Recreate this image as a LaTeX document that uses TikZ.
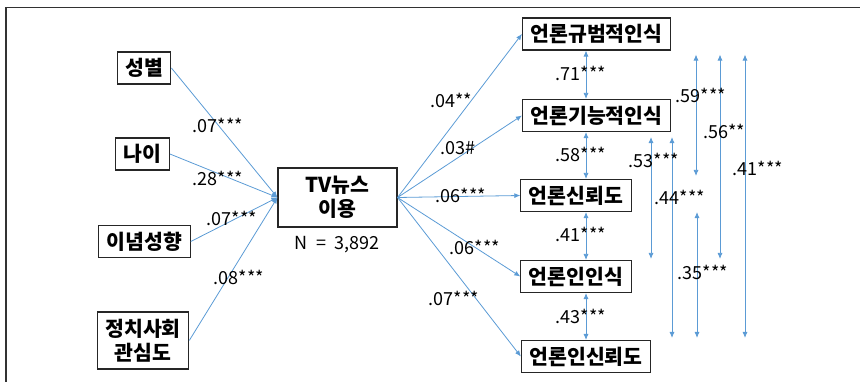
\documentclass[tikz,border=0pt]{standalone}
\usepackage{fontspec}
\setmainfont{Noto Sans CJK KR}
\usetikzlibrary{arrows.meta}

\definecolor{pathblue}{RGB}{91,155,213}
\definecolor{framegray}{RGB}{50,50,50}

\begin{document}
\begin{tikzpicture}[x=1pt, y=-1pt]
		\tikzset{
			var/.style={
				draw=black!85,
				line width=1.1pt,
				align=center,
				font=\fontsize{20.5}{24}\selectfont\bfseries,
				inner xsep=8pt,
				inner ysep=0pt,
				minimum height=32pt
			},
			coef/.style={
				font=\fontsize{18}{20}\selectfont,
				inner sep=0pt
			},
			line/.style={
				-{Latex[length=6pt, width=5pt]},
				draw=pathblue,
				line width=0.8pt
			},
			pair/.style={
				{Latex[length=6pt, width=5pt]}-{Latex[length=6pt, width=5pt]},
				draw=pathblue,
				line width=0.8pt
			}
		}

		\useasboundingbox (0,0) rectangle (860,382);

		% frame
		\draw[framegray, line width=1.5pt] (6,382) -- (6,7.5) -- (860,7.5);

		% predictors
		\node[var] (sex) at (144, 68)
			{성별};
		\node[var] (age) at (142.5, 154)
			{나이};
		\node[var] (ideo) at (144.5, 241.5)
			{이념성향};
		\node[var, minimum height=57pt] (interest) at (143, 340.5)
			{정치사회\\관심도};

		\node[var, minimum height=59pt, minimum width=119pt] (tv) at (337.5, 197.5)
			{TV뉴스\\이용};
		\node[coef] (n) at (337, 245)
			{N \ = \ 3,892};

		% outcomes
		\node[var] (norm) at (596.5, 34)
			{언론규범적인식};
		\node[var] (func) at (596.5, 115.5)
			{언론기능적인식};
		\node[var] (trust) at (576, 195.5)
			{언론신뢰도};
		\node[var] (jperc) at (576, 276.5)
			{언론인인식};
		\node[var] (jtrust) at (586, 356.5)
			{언론인신뢰도};

		% columns of the correlation arrows
		\coordinate (chain) at (586, 0);
		\coordinate (func-jperc) at (651, 0);
		\coordinate (func-jtrust) at (672, 0);
		\coordinate (norm-trust) at (696, 0);
		\coordinate (norm-jperc) at (720, 0);
		\coordinate (norm-jtrust) at (745, 0);
		\coordinate (trust-jtrust) at (697, 0);

		\draw[line] (sex.east) -- (tv.west);
		\draw[line] (age.east) -- (tv.west);
		\draw[line] (ideo.east) -- (tv.west);
		\draw[line] (interest.east) -- (tv.west);

		\draw[line] (tv.east) -- (norm.west);
		\draw[line] (tv.east) -- (func.west);
		\draw[line] (tv.east) -- (trust.west);
		\draw[line] (tv.east) -- (jperc.west);
		\draw[line] (tv.east) -- (jtrust.west);

		\draw[pair] (norm.south -| chain) -- (func.north -| chain);
		\draw[pair] (func.south -| chain) -- (trust.north -| chain);
		\draw[pair] (trust.south -| chain) -- (jperc.north -| chain);
		\draw[pair] (jperc.south -| chain) -- (jtrust.north -| chain);

		\draw[pair] ([yshift=-5pt]func.south -| func-jperc) -- ([yshift=1pt]jperc.north -| func-jperc);
		\draw[pair] ([yshift=-5pt]func.south -| func-jtrust) -- ([yshift=2pt]jtrust.north -| func-jtrust);
		\draw[pair] ([yshift=-4pt]norm.south -| norm-trust) -- ([yshift=3pt]trust.north -| norm-trust);
		\draw[pair] ([yshift=-4pt]norm.south -| norm-jperc) -- ([yshift=1pt]jperc.north -| norm-jperc);
		\draw[pair] ([yshift=-4pt]norm.south -| norm-jtrust) -- ([yshift=2pt]jtrust.north -| norm-jtrust);
		\draw[pair] (trust.south -| trust-jtrust) -- ([yshift=2pt]jtrust.north -| trust-jtrust);

		% path coefficients
		\node[coef] (b-sex) at (218, 125) {.07***};
		\node[coef] (b-age) at (218, 178) {.28***};
		\node[coef] (b-ideo) at (232, 218) {.07***};
		\node[coef] (b-interest) at (239, 277) {.08***};

		\node[coef] (b-norm) at (451, 100) {.04**};
		\node[coef] (b-func) at (458, 148) {.03\#};
		\node[coef] (b-trust) at (461, 195) {.06***};
		\node[coef] (b-jperc) at (475, 247) {.06***};
		\node[coef] (b-jtrust) at (454, 298) {.07***};

		% correlations
		\node[coef] (r-norm-func) at (581, 73) {.71***};
		\node[coef] (r-func-trust) at (581, 154) {.58***};
		\node[coef] (r-trust-jperc) at (581, 234) {.41***};
		\node[coef] (r-jperc-jtrust) at (581, 316) {.43***};

		\node[coef] (r-func-jperc) at (654, 160) {.53***};
		\node[coef] (r-func-jtrust) at (680, 197) {.44***};
		\node[coef] (r-norm-trust) at (701, 95) {.59***};
		\node[coef] (r-norm-jperc) at (724, 131) {.56**};
		\node[coef] (r-norm-jtrust) at (758, 168) {.41***};
		\node[coef] (r-trust-jtrust) at (703, 272) {.35***};

	\end{tikzpicture}
\end{document}
